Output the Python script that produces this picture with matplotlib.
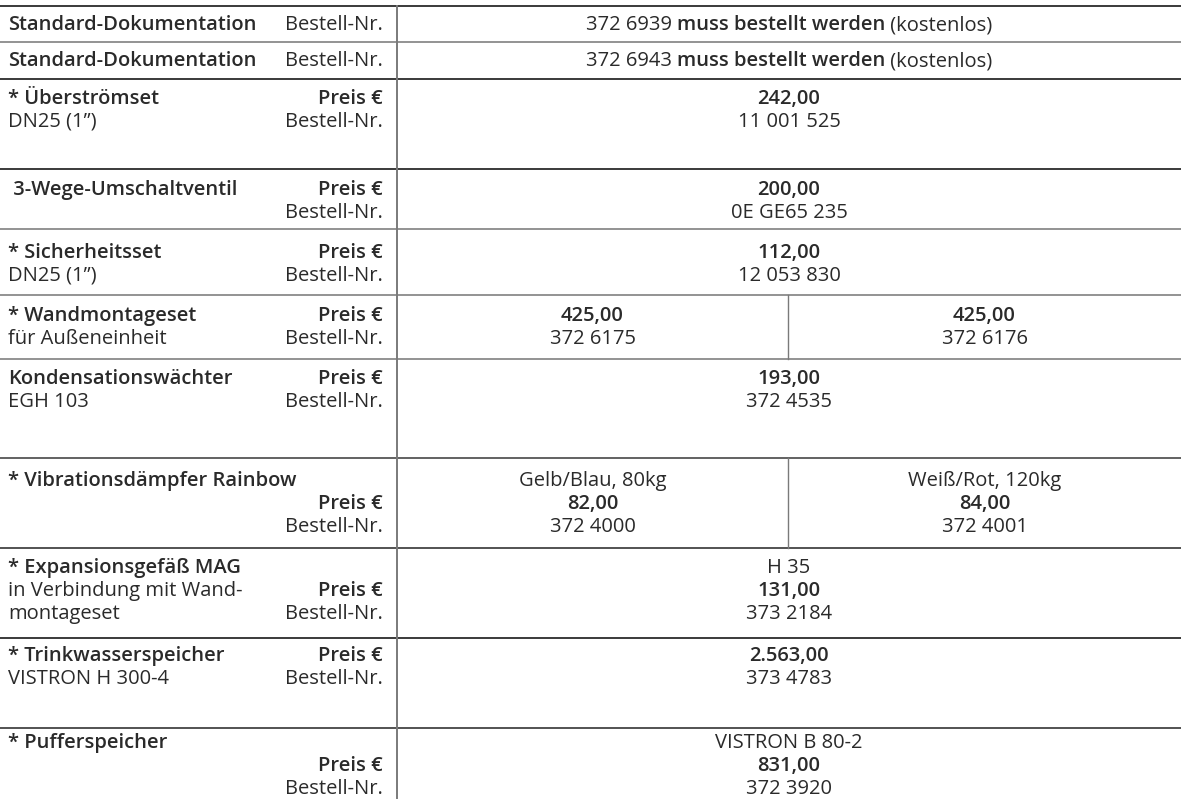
import matplotlib
matplotlib.use("Agg")
import matplotlib.pyplot as plt

# ---------------- data ----------------
row_titles = ["Standard-Dokumentation", "Standard-Dokumentation", "* Überströmset",
              " 3-Wege-Umschaltventil", "* Sicherheitsset", "* Wandmontageset",
              "Kondensationswächter", "* Vibrationsdämpfer Rainbow",
              "* Expansionsgefäß MAG", "* Trinkwasserspeicher", "* Pufferspeicher"]
row_subtitles = [[], [], ["DN25 (1\u201d)"], [], ["DN25 (1\u201d)"], ["für Außeneinheit"],
                 ["EGH 103"], [], ["in Verbindung mit Wand-", "montageset"],
                 ["VISTRON H 300-4"], []]
variants = [None, None, None, None, None, None, None,
            ["Gelb/Blau, 80kg", "Weiß/Rot, 120kg"], ["H 35"], None, ["VISTRON B 80-2"]]
prices = [None, None, ["242,00"], ["200,00"], ["112,00"], ["425,00", "425,00"],
          ["193,00"], ["82,00", "84,00"], ["131,00"], ["2.563,00"], ["831,00"]]
order_numbers = [["372 6939"], ["372 6943"], ["11 001 525"], ["0E GE65 235"],
                 ["12 053 830"], ["372 6175", "372 6176"], ["372 4535"],
                 ["372 4000", "372 4001"], ["373 2184"], ["373 4783"], ["372 3920"]]
doc_note = ["muss bestellt werden", " (kostenlos)"]
label_price = "Preis €"
label_order = "Bestell-Nr."

# ---------------- layout ----------------
W, H = 1181, 812
row_tops = [7, 43, 80, 170, 230, 296, 360, 459, 549, 639, 729]
first_offsets = [0, 0, 19, 20, 23, 20, 19, 22, 19, 17, 14]
line_colors = ["#2b2b2b", "#8a8a8a", "#2b2b2b", "#2b2b2b", "#8a8a8a", "#8a8a8a",
               "#8a8a8a", "#555555", "#444444", "#2b2b2b", "#444444"]
x_div = 397
x_mid = 788
x_left = 8
x_label_right = 383
spacing = 23

FONT = "Open Sans"
FS = 14.5
TC = "#2a2a2a"
BOLD = "semibold"

fig = plt.figure(figsize=(W / 100, H / 100), dpi=100)
ax = fig.add_axes([0, 0, 1, 1])
ax.set_xlim(0, W)
ax.set_ylim(H, 0)
ax.axis("off")

# horizontal lines
for y, c in zip(row_tops, line_colors):
    ax.plot([0, W], [y, y], color=c, lw=1.3, solid_capstyle="butt")
# main vertical divider
ax.plot([x_div, x_div], [row_tops[0], 799], color="#7a7a7a", lw=1.4)
# split cells
for i, item in enumerate(prices):
    if item is not None and len(item) == 2:
        ax.plot([x_mid, x_mid], [row_tops[i], row_tops[i + 1]], color="#7a7a7a", lw=1.0)


def txt(x, y, s, ha="left", bold=False):
    return ax.text(x, y, s, ha=ha, va="center", fontsize=FS, family=FONT,
                   fontweight=BOLD if bold else "normal", color=TC)


centers1 = [(x_div + W) / 2]
centers2 = [(x_div + x_mid) / 2, (x_mid + W) / 2]

fig.canvas.draw()
renderer = fig.canvas.get_renderer()

for i, title in enumerate(row_titles):
    top = row_tops[i]
    bottom = row_tops[i + 1] if i + 1 < len(row_tops) else H
    if prices[i] is None:
        # single-line documentation rows
        yc = (top + bottom) / 2
        txt(x_left, yc, title, bold=True)
        txt(x_label_right, yc, label_order, ha="right")
        pieces = [(order_numbers[i][0] + " ", False), (doc_note[0], True), (doc_note[1], False)]
        arts = [txt(0, yc, s, bold=b) for s, b in pieces]
        widths = [a.get_window_extent(renderer=renderer).width for a in arts]
        total = sum(widths)
        x0 = centers1[0] - total / 2
        for a, w in zip(arts, widths):
            a.set_x(x0)
            x0 += w
        continue

    ys = [top + first_offsets[i] + k * spacing for k in range(3)]
    # left column
    txt(x_left, ys[0], title, bold=True)
    if i in (7, 10):
        txt(x_label_right, ys[1], label_price, ha="right", bold=True)
        txt(x_label_right, ys[2], label_order, ha="right")
    elif i == 8:
        txt(x_left, ys[1], row_subtitles[i][0])
        txt(x_left, ys[2], row_subtitles[i][1])
        txt(x_label_right, ys[1], label_price, ha="right", bold=True)
        txt(x_label_right, ys[2], label_order, ha="right")
    else:
        txt(x_label_right, ys[0], label_price, ha="right", bold=True)
        txt(x_label_right, ys[1], label_order, ha="right")
        if row_subtitles[i]:
            txt(x_left, ys[1], row_subtitles[i][0])
    # right column
    cs = centers2 if len(prices[i]) == 2 else centers1
    if variants[i] is not None:
        for k, cx in enumerate(cs):
            txt(cx, ys[0], variants[i][k], ha="center")
            txt(cx, ys[1], prices[i][k], ha="center", bold=True)
            txt(cx, ys[2], order_numbers[i][k], ha="center")
    else:
        for k, cx in enumerate(cs):
            txt(cx, ys[0], prices[i][k], ha="center", bold=True)
            txt(cx, ys[1], order_numbers[i][k], ha="center")

fig.savefig("out.png", dpi=100, facecolor="white")
